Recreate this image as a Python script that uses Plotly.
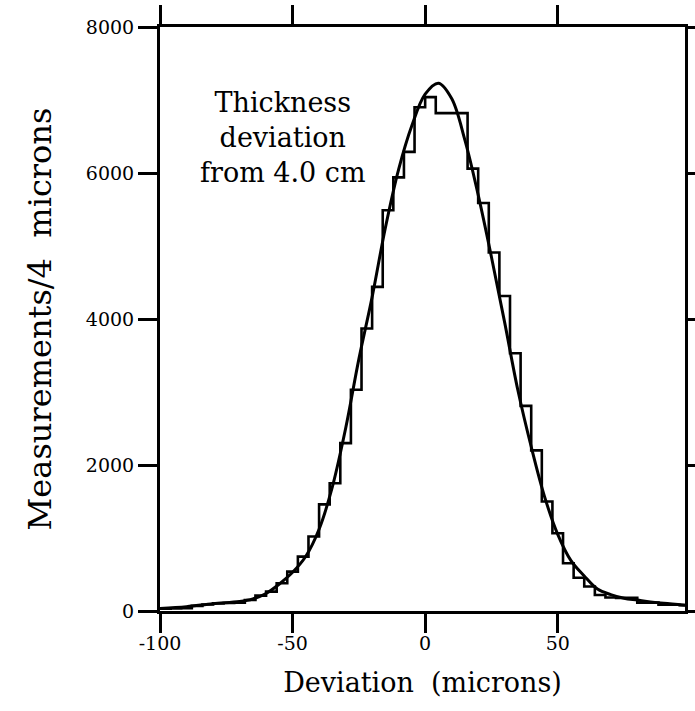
import plotly.graph_objects as go

# Histogram: 4-micron bins, left edges from -100
bin_left_edges = list(range(-100, 100, 4))
counts = [30, 35, 40, 70, 90, 105, 110, 115, 150, 210,
          265, 380, 540, 745, 1020, 1460, 1750, 2300, 3030, 3870,
          4440, 5490, 5940, 6290, 6900, 7040, 6820, 6820, 6820, 6060,
          5590, 4910, 4315, 3530, 2810, 2200, 1500, 1065, 655, 455,
          335, 220, 185, 180, 180, 115, 115, 85, 85, 80]

# Fitted smooth curve
curve_x = [-100, -90, -80, -70, -65, -60, -55, -50, -45, -40, -35, -30, -25, -20,
           -15, -10, -5, 0, 5, 10, 15, 20, 25, 30, 35, 40, 45, 50, 55, 60, 65, 70,
           75, 80, 85, 90, 98]
curve_y = [35, 60, 100, 130, 165, 240, 370, 530, 750, 1120, 1700, 2500, 3450, 4300,
           5250, 6050, 6650, 7080, 7230, 7020, 6450, 5700, 4850, 3950, 3020, 2250,
           1570, 1050, 690, 480, 300, 225, 175, 150, 125, 105, 80]

x_ticks = [-100, -50, 0, 50]
y_ticks = [0, 2000, 4000, 6000, 8000]

FONT = "DejaVu Serif"

step_x = bin_left_edges + [bin_left_edges[-1] + 4]
step_y = counts + [counts[-1]]

fig = go.Figure()
fig.add_trace(go.Scatter(x=step_x, y=step_y, mode="lines", line_shape="hv",
                         line=dict(color="black", width=2.6), showlegend=False))
fig.add_trace(go.Scatter(x=curve_x, y=curve_y, mode="lines", line_shape="spline",
                         line=dict(color="black", width=3), showlegend=False))

axis_common = dict(showline=True, linewidth=3, linecolor="black", mirror="allticks",
                   ticks="outside", ticklen=19, tickwidth=2.5, tickcolor="black",
                   showgrid=False, zeroline=False, automargin=False,
                   tickfont=dict(family=FONT, size=19, color="black"))

fig.update_xaxes(range=[-100, 98], tickvals=x_ticks, ticktext=[str(v) for v in x_ticks],
                 ticklabelstandoff=-6,
                 title=dict(text="Deviation  (microns)", font=dict(family=FONT, size=27, color="black"),
                            standoff=21),
                 **axis_common)
fig.update_yaxes(range=[0, 8000], tickvals=y_ticks, ticktext=[str(v) for v in y_ticks],
                 title=dict(text="Measurements/4  microns", font=dict(family=FONT, size=32, color="black"),
                            standoff=25),
                 **axis_common)

fig.add_annotation(x=-53.5, y=6493, xref="x", yref="y",
                   text="Thickness<br>deviation<br>from 4.0 cm", showarrow=False,
                   align="center", font=dict(family=FONT, size=27, color="black"))

fig.update_layout(width=695, height=711, margin=dict(l=160, r=10, t=27, b=100),
                  plot_bgcolor="white", paper_bgcolor="white")

fig.write_html("out.html")
